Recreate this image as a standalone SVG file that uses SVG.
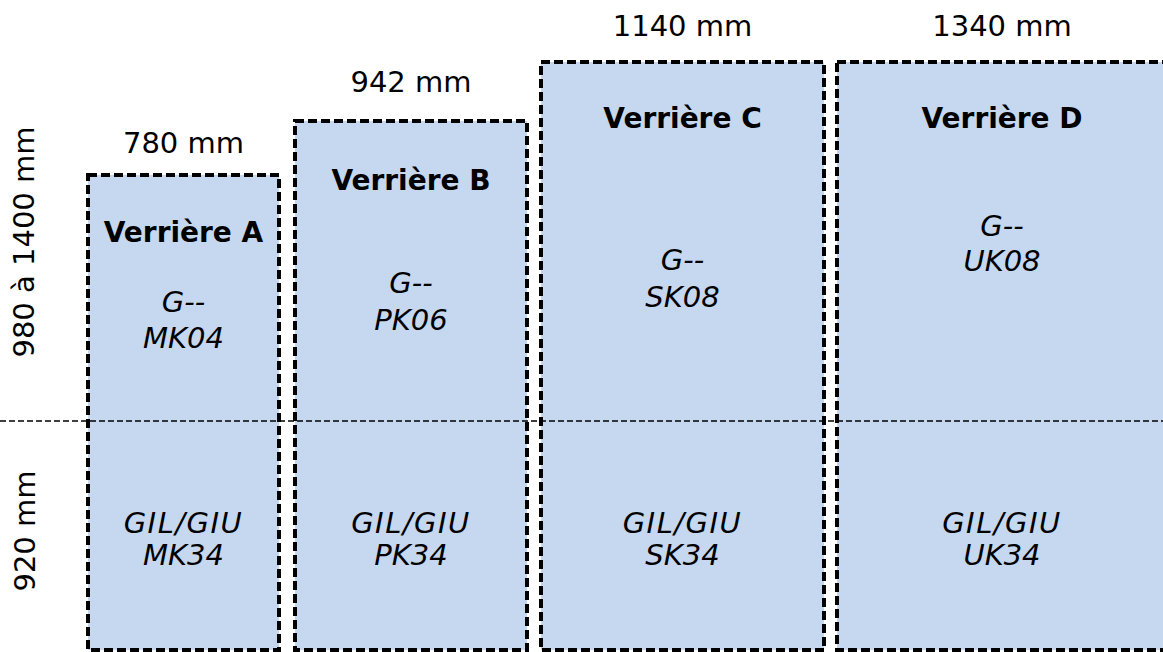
<svg xmlns="http://www.w3.org/2000/svg" width="1163" height="652" viewBox="0 0 1163 652">
<style>
.box{fill:#c6d8f0;stroke:#000;stroke-width:4;stroke-dasharray:9 4}
.t{font-family:"DejaVu Sans",Verdana,sans-serif;fill:#000;text-anchor:middle}
.h{font-size:28px;font-weight:bold}
.i{font-size:29px;font-style:italic}
.w{letter-spacing:1.5px}
.l{font-size:29px}
.sep{stroke:#000;stroke-width:1.5;stroke-dasharray:6 3;fill:none}
</style>
<rect width="1163" height="652" fill="#fff"/>
<g id="verriere-a">
<rect class="box" x="88" y="175" width="191" height="475"/>
<text class="t h" x="183.5" y="242">Verrière A</text>
<text class="t i" x="183.5" y="312">G--</text>
<text class="t i" x="183.5" y="348">MK04</text>
<text class="t i w" x="183.5" y="533">GIL/GIU</text>
<text class="t i" x="183.5" y="565">MK34</text>
</g>
<g id="verriere-b">
<rect class="box" x="295" y="121" width="232" height="529"/>
<text class="t h" x="411" y="190">Verrière B</text>
<text class="t i" x="411" y="293">G--</text>
<text class="t i" x="411" y="330">PK06</text>
<text class="t i w" x="411" y="533">GIL/GIU</text>
<text class="t i" x="411" y="565">PK34</text>
</g>
<g id="verriere-c">
<rect class="box" x="541" y="62" width="283" height="588"/>
<text class="t h" x="682.5" y="128">Verrière C</text>
<text class="t i" x="682.5" y="270">G--</text>
<text class="t i" x="682.5" y="307">SK08</text>
<text class="t i w" x="682.5" y="533">GIL/GIU</text>
<text class="t i" x="682.5" y="565">SK34</text>
</g>
<g id="verriere-d">
<rect class="box" x="837" y="62" width="340" height="588"/>
<text class="t h" x="1002" y="128">Verrière D</text>
<text class="t i" x="1002" y="236">G--</text>
<text class="t i" x="1002" y="271">UK08</text>
<text class="t i w" x="1002" y="533">GIL/GIU</text>
<text class="t i" x="1002" y="565">UK34</text>
</g>
<g id="connectors">
<line class="sep" x1="0" y1="421" x2="1163" y2="421"/>
</g>
<g id="labels">
<text class="t l" x="183.5" y="153">780 mm</text>
<text class="t l" x="411" y="92">942 mm</text>
<text class="t l" x="682.5" y="36">1140 mm</text>
<text class="t l" x="1002" y="36">1340 mm</text>
<text class="t l" transform="translate(34 242) rotate(-90)">980 à 1400 mm</text>
<text class="t l" transform="translate(35 531) rotate(-90)">920 mm</text>
</g>
</svg>
